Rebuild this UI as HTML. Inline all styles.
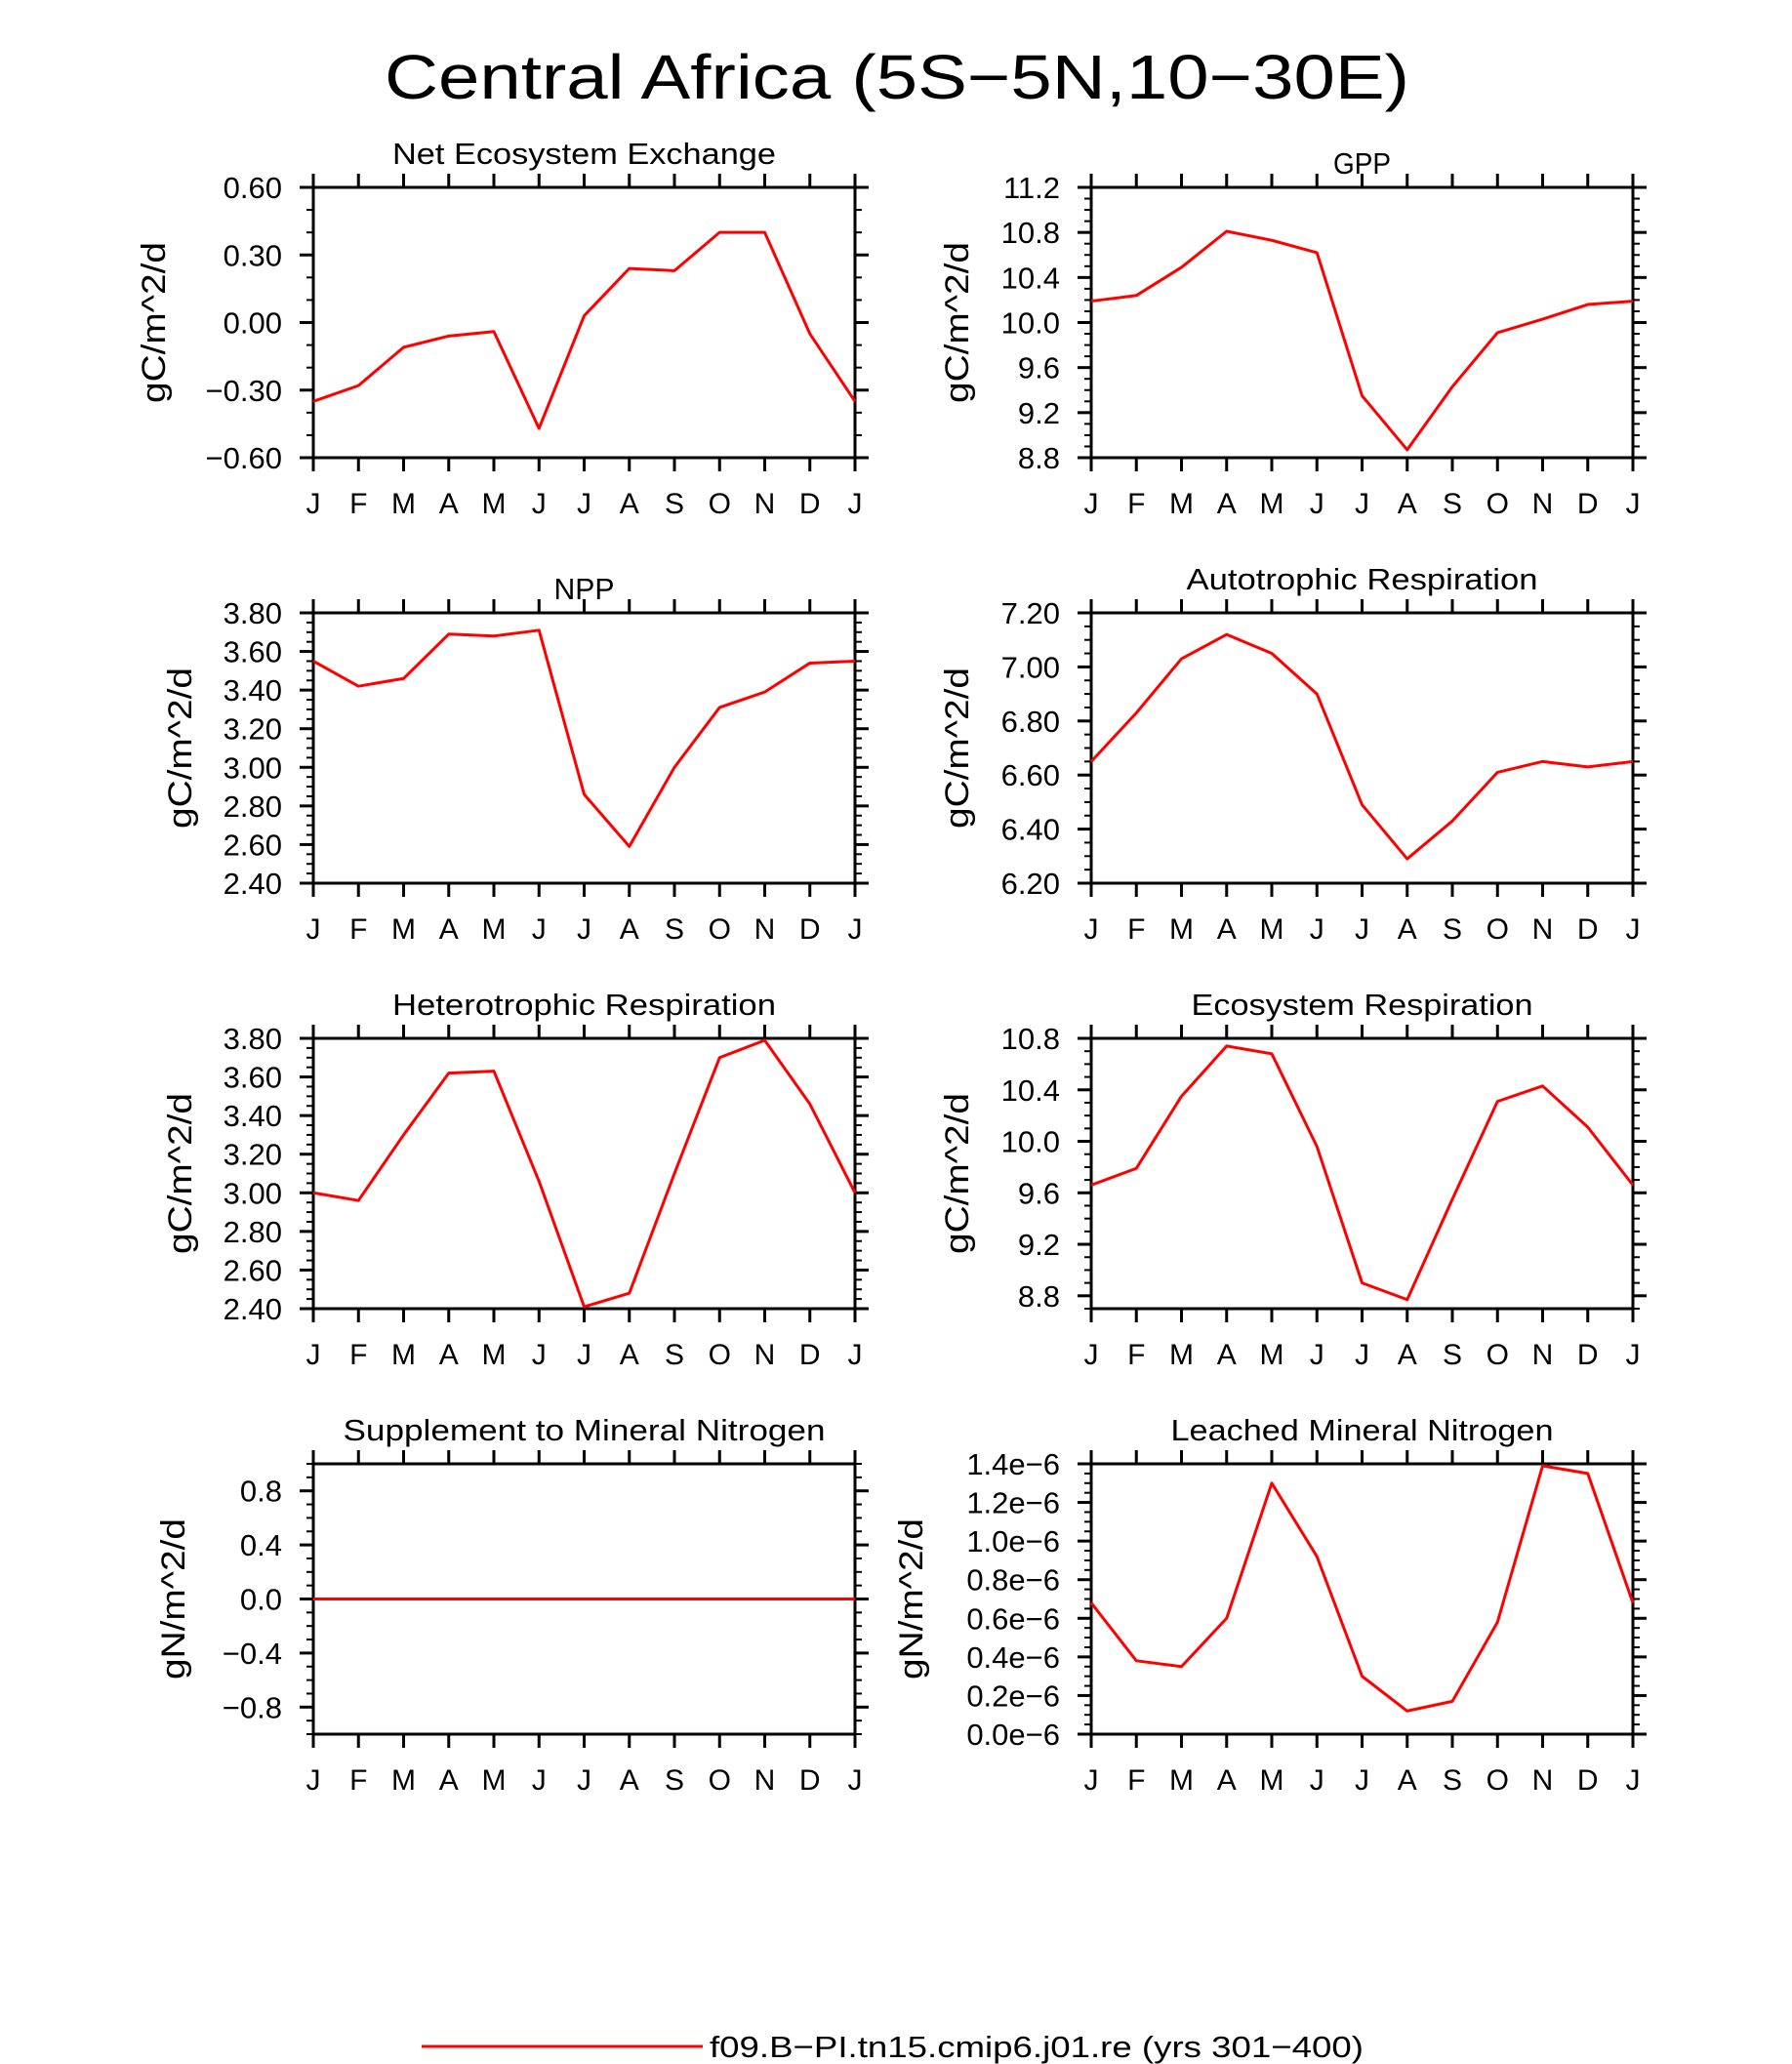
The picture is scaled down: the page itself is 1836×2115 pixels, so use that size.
<!DOCTYPE html>
<html><head><meta charset="utf-8"><style>
html,body{margin:0;padding:0;background:#fff;}
svg{display:block;}
text{font-family:"Liberation Sans","DejaVu Sans",sans-serif;fill:#000;}
</style></head><body>
<svg id="fig" width="1836" height="2115" viewBox="0 0 1836 2115" xmlns="http://www.w3.org/2000/svg">
<text x="919" y="101" font-size="64" text-anchor="middle" textLength="1050" lengthAdjust="spacingAndGlyphs">Central Africa (5S−5N,10−30E)</text>
<line x1="432" y1="2097" x2="720" y2="2097" stroke="#f00" stroke-width="3"/>
<text x="727" y="2108" font-size="31" textLength="670" lengthAdjust="spacingAndGlyphs">f09.B−PI.tn15.cmip6.j01.re (yrs 301−400)</text>
</svg>
<script>
const months = ["J","F","M","A","M","J","J","A","S","O","N","D","J"];
const neeValues = [-0.35,-0.28,-0.11,-0.06,-0.04,-0.47,0.03,0.24,0.23,0.40,0.40,-0.05,-0.35];
const gppValues = [10.19,10.24,10.49,10.81,10.73,10.62,9.35,8.87,9.43,9.91,10.03,10.16,10.19];
const nppValues = [3.55,3.42,3.46,3.69,3.68,3.71,2.86,2.59,3.00,3.31,3.39,3.54,3.55];
const arValues = [6.65,6.83,7.03,7.12,7.05,6.90,6.49,6.29,6.43,6.61,6.65,6.63,6.65];
const hrValues = [3.00,2.96,3.30,3.62,3.63,3.06,2.41,2.48,3.10,3.70,3.79,3.46,3.00];
const erValues = [9.66,9.79,10.35,10.74,10.68,9.96,8.90,8.77,9.55,10.31,10.43,10.11,9.66];
const supValues = [0,0,0,0,0,0,0,0,0,0,0,0,0];
const leachValues = [0.68e-6,0.38e-6,0.35e-6,0.60e-6,1.30e-6,0.92e-6,0.30e-6,0.12e-6,0.17e-6,0.58e-6,1.39e-6,1.35e-6,0.68e-6];
const neeTicks = ["0.60","0.30","0.00","−0.30","−0.60"];
const gppTicks = ["11.2","10.8","10.4","10.0","9.6","9.2","8.8"];
const nppTicks = ["3.80","3.60","3.40","3.20","3.00","2.80","2.60","2.40"];
const arTicks = ["7.20","7.00","6.80","6.60","6.40","6.20"];
const hrTicks = ["3.80","3.60","3.40","3.20","3.00","2.80","2.60","2.40"];
const erTicks = ["10.8","10.4","10.0","9.6","9.2","8.8"];
const supTicks = ["0.8","0.4","0.0","−0.4","−0.8"];
const leachTicks = ["1.4e−6","1.2e−6","1.0e−6","0.8e−6","0.6e−6","0.4e−6","0.2e−6","0.0e−6"];

const NS="http://www.w3.org/2000/svg";
const svg=document.getElementById('fig');
function mk(tag,attrs,parent){const e=document.createElementNS(NS,tag);for(const k in attrs)e.setAttribute(k,attrs[k]);(parent||svg).appendChild(e);return e;}

const panels=[
 {name:'net-ecosystem-exchange',title:'Net Ecosystem Exchange',tl:393,unit:'gC/m^2/d',vals:neeValues,ticks:neeTicks,ymin:-0.6,ymax:0.6,t0:0.6,tstep:-0.3,minor:0.1,col:0,row:0,ux:169,ty:-24},
 {name:'gpp',title:'GPP',tl:59,unit:'gC/m^2/d',vals:gppValues,ticks:gppTicks,ymin:8.8,ymax:11.2,t0:11.2,tstep:-0.4,minor:0.1,col:1,row:0,ux:992,ty:-14},
 {name:'npp',title:'NPP',tl:62,unit:'gC/m^2/d',vals:nppValues,ticks:nppTicks,ymin:2.4,ymax:3.8,t0:3.8,tstep:-0.2,minor:0.05,col:0,row:1,ux:196,ty:-14},
 {name:'autotrophic-respiration',title:'Autotrophic Respiration',tl:360,unit:'gC/m^2/d',vals:arValues,ticks:arTicks,ymin:6.2,ymax:7.2,t0:7.2,tstep:-0.2,minor:0.05,col:1,row:1,ux:992,ty:-24},
 {name:'heterotrophic-respiration',title:'Heterotrophic Respiration',tl:393,unit:'gC/m^2/d',vals:hrValues,ticks:hrTicks,ymin:2.4,ymax:3.8,t0:3.8,tstep:-0.2,minor:0.05,col:0,row:2,ux:196,ty:-24},
 {name:'ecosystem-respiration',title:'Ecosystem Respiration',tl:350,unit:'gC/m^2/d',vals:erValues,ticks:erTicks,ymin:8.7,ymax:10.8,t0:10.8,tstep:-0.4,minor:0.1,col:1,row:2,ux:992,ty:-24},
 {name:'supplement-mineral-nitrogen',title:'Supplement to Mineral Nitrogen',tl:494,unit:'gN/m^2/d',vals:supValues,ticks:supTicks,ymin:-1,ymax:1,t0:0.8,tstep:-0.4,minor:0.1,col:0,row:3,ux:189,ty:-24},
 {name:'leached-mineral-nitrogen',title:'Leached Mineral Nitrogen',tl:392,unit:'gN/m^2/d',vals:leachValues,ticks:leachTicks,ymin:0,ymax:1.4e-6,t0:1.4e-6,tstep:-0.2e-6,minor:0.05e-6,col:1,row:3,ux:945,ty:-24}
];
const colX=[321,1118], W=555, rowY=[192,628,1064,1500], H=277;

panels.forEach(p=>{
 const L=colX[p.col],T=rowY[p.row],R=L+W,B=T+H;
 const g=mk('g',{});
 
 
 const xs=i=>L+i*W/12;
 const ys=v=>B-(v-p.ymin)/(p.ymax-p.ymin)*H;
 const nMin=Math.round((p.ymax-p.ymin)/p.minor);
 for(let k=0;k<=nMin;k++){const y=ys(p.ymin+k*p.minor);
  mk('line',{x1:L-7,y1:y,x2:L,y2:y,stroke:'#000','stroke-width':2},g);
  mk('line',{x1:R,y1:y,x2:R+7,y2:y,stroke:'#000','stroke-width':2},g);}
 p.ticks.forEach((lab,i)=>{const y=ys(p.t0+i*p.tstep);
  mk('line',{x1:L-14,y1:y,x2:L,y2:y,stroke:'#000','stroke-width':3},g);
  mk('line',{x1:R,y1:y,x2:R+14,y2:y,stroke:'#000','stroke-width':3},g);
  const t=mk('text',{x:L-32,y:y+11,'font-size':31,'text-anchor':'end'},g);
  
  
  t.textContent=lab;});
 months.forEach((m,i)=>{const x=xs(i);
  mk('line',{x1:x,y1:B,x2:x,y2:B+14,stroke:'#000','stroke-width':3},g);
  mk('line',{x1:x,y1:T-14,x2:x,y2:T,stroke:'#000','stroke-width':3},g);
  const t=mk('text',{x:x,y:B+57,'font-size':30,'text-anchor':'middle'},g);
  
  
  t.textContent=m;});
 const fr=mk('rect',{x:L,y:T,width:W,height:H,fill:'none',stroke:'#000','stroke-width':3},g);
 
 
 const pts=p.vals.map((v,i)=>xs(i)+','+ys(v)).join(' ');
 const pl=mk('polyline',{points:pts,fill:'none',stroke:'#f00','stroke-width':3,'stroke-linejoin':'round'},g);
 
 
 const tt=mk('text',{x:L+W/2,y:T+p.ty,'font-size':31,'text-anchor':'middle',textLength:p.tl,lengthAdjust:'spacingAndGlyphs'},g);
 
 
 tt.textContent=p.title;
 const cy=T+H/2;
 const ut=mk('text',{x:p.ux,y:cy,'font-size':34,'text-anchor':'middle',textLength:165,lengthAdjust:'spacingAndGlyphs',transform:'rotate(-90 '+p.ux+' '+cy+')'},g);
 
 
 ut.textContent=p.unit;
});
</script>
</body></html>
